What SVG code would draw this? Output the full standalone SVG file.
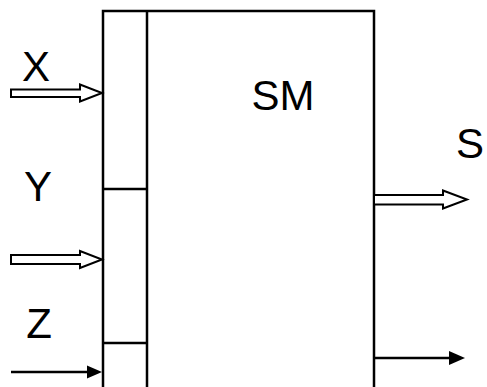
<svg xmlns="http://www.w3.org/2000/svg" width="487" height="387" viewBox="0 0 487 387">
<style>
.ln{fill:none;stroke:#000;stroke-width:2.5}
.ha{fill:#fff;stroke:#000;stroke-width:2;stroke-linejoin:miter}
.fa{fill:#000;stroke:none}
.t{font-family:"Liberation Sans",Arial,sans-serif;font-size:42px;fill:#000;text-anchor:middle}
</style>
<rect width="487" height="387" fill="#fff"/>
<g id="SM">
<rect class="ln" x="103" y="11" width="271" height="390"/>
<text class="t" x="283" y="110">SM</text>
</g>
<g id="ports">
<line class="ln" x1="147" y1="11" x2="147" y2="390"/>
<line class="ln" x1="103" y1="189" x2="147" y2="189"/>
<line class="ln" x1="103" y1="343" x2="147" y2="343"/>
</g>
<g id="labels">
<text class="t" x="36" y="81">X</text>
<text class="t" x="38" y="201">Y</text>
<text class="t" x="39" y="338">Z</text>
<text class="t" x="470" y="158">S</text>
</g>
<g id="connectors">
<polygon class="ha" points="11,89.5 80,89.5 80,84.5 102,93 80,101.5 80,97 11,97"/>
<polygon class="ha" points="11,255 80,255 80,251 102,259.5 80,268 80,264 11,264"/>
<polygon class="ha" points="374,195 443,195 443,190.5 467,199.5 443,208.5 443,204.5 374,204.5"/>
<line class="ln" x1="11" y1="372" x2="89" y2="372"/>
<polygon class="fa" points="87,365.5 102,372 87,378.5"/>
<line class="ln" x1="374" y1="358" x2="451" y2="358"/>
<polygon class="fa" points="449,351 465,358 449,365"/>
</g>
</svg>
